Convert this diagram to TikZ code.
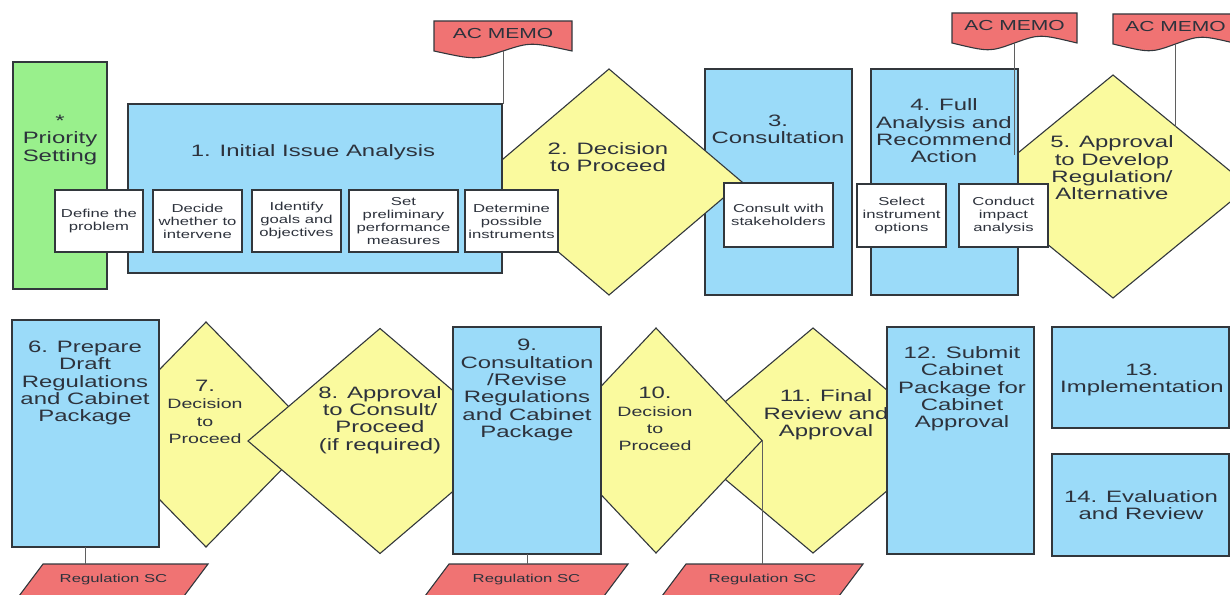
\documentclass[tikz,border=0pt]{standalone}
\usepackage{fontspec}
\setmainfont{Liberation Sans}[FakeStretch=1.45]
\usepackage{tikz}
\usetikzlibrary{shapes.geometric}

\definecolor{stepblue}{RGB}{155,219,249}
\definecolor{prioritygreen}{RGB}{153,240,140}
\definecolor{decisionyellow}{RGB}{250,250,158}
\definecolor{memored}{RGB}{240,115,115}
\definecolor{edgegray}{RGB}{50,55,60}
\definecolor{textgray}{RGB}{45,50,60}
\definecolor{linkgray}{RGB}{95,95,95}

\newcommand{\smalltxt}{\fontsize{13.5}{15}\selectfont}

% memo with wavy bottom: name, left x, top y, width
\newcommand{\acmemo}[4]{%
  \filldraw[memo] (#2,#3) -- ++(#4,0) -- ++(0,30)
    .. controls +(-0.3*#4,-9) and +(0.2*#4,-9) .. ++(-0.5*#4,0)
    .. controls +(-0.2*#4,9) and +(0.3*#4,9) .. ++(-0.5*#4,0) -- cycle;
  \node[memotext, minimum width=#4, minimum height=30] (#1) at (#2,#3) {AC MEMO};}

% slanted Regulation SC box: name, top-left x, top width
\newcommand{\regsc}[3]{%
  \filldraw[memo] (#2,564) -- ++(#3,0) -- ++(-24,32) -- ++(-#3,0) -- cycle;
  \node[sctext, minimum width=#3, minimum height=32] (#1) at (#2-12,564) {Regulation SC};}

\tikzset{
  stage/.style={rectangle, draw=edgegray, line width=1.1pt, fill=stepblue, inner sep=0pt, outer sep=0pt, anchor=north west},
  priority/.style={stage, fill=prioritygreen},
  gate/.style={diamond, draw=edgegray, line width=1.1pt, fill=decisionyellow, inner sep=0pt, outer sep=0pt},
  task/.style={rectangle, draw=edgegray, line width=1.1pt, fill=white, inner sep=0pt, outer sep=0pt, anchor=north west, align=center, text=textgray, font=\fontsize{11.5}{13}\selectfont},
  lbl/.style={align=center, inner sep=0pt, text=textgray, font=\fontsize{16.5}{17.3}\selectfont},
  memo/.style={draw=edgegray, line width=1.1pt, fill=memored},
  memotext/.style={anchor=north west, inner sep=0pt, outer sep=0pt, text=textgray, text depth=6pt, font=\fontsize{14.5}{16}\selectfont},
  sctext/.style={anchor=north west, inner sep=0pt, outer sep=0pt, text=textgray, font=\fontsize{11.5}{13}\selectfont},
  link/.style={draw=linkgray, line width=1pt},
}

\begin{document}
\begin{tikzpicture}[x=1pt, y=-1pt]
  \useasboundingbox (0,0) rectangle (1230,594);
  \clip (0,0) rectangle (1230,594);

  % top row
  \node[stage, minimum width=147, minimum height=226] (b3) at (705,69) {};
  \node[lbl] (b3t) at (778,129) {3.\\Consultation};
  \node[gate, minimum width=266, minimum height=226] (d2) at (609,182) {};
  \node[lbl] (d2t) at (608,157) {2. Decision\\to Proceed};
  \node[stage, minimum width=374, minimum height=169] (b1) at (128,104) {};
  \node[lbl] (b1t) at (313,152) {1. Initial Issue Analysis};
  \node[priority, minimum width=94, minimum height=227] (b0) at (13,62) {};
  \node[lbl] (b0t) at (60,140) {*\\Priority\\Setting};

  \node[task, minimum width=88, minimum height=62] (t1) at (55,190) {Define the\\problem};
  \node[task, minimum width=89, minimum height=62] (t2) at (153,190) {Decide\\whether to\\intervene};
  \node[task, minimum width=89, minimum height=62] (t3) at (252,190) {Identify\\goals and\\objectives};
  \node[task, minimum width=109, minimum height=62] (t4) at (349,190) {Set\\preliminary\\performance\\measures};
  \node[task, minimum width=93, minimum height=62] (t5) at (465,190) {Determine\\possible\\instruments};
  \node[task, minimum width=109, minimum height=64] (t6) at (724,183) {Consult with\\stakeholders};

  \node[gate, minimum width=272, minimum height=223] (d5) at (1113,186.5) {};
  \node[lbl] (d5t) at (1112,168) {5. Approval\\to Develop\\Regulation/\\Alternative};
  \node[stage, minimum width=147, minimum height=226] (b4) at (871,69) {};
  \node[lbl] (b4t) at (944,131) {4. Full\\Analysis and\\Recommend\\Action};
  \node[task, minimum width=89, minimum height=63] (t7) at (857,184) {Select\\instrument\\options};
  \node[task, minimum width=89, minimum height=63] (t8) at (959,184) {Conduct\\impact\\analysis};

  % bottom row
  \node[gate, minimum width=220, minimum height=225] (d7) at (206,434.5) {};
  \node[lbl] (d7t) at (205,412) {7.\\\smalltxt Decision\\\smalltxt to\\\smalltxt Proceed};
  \node[stage, minimum width=147, minimum height=227] (b6) at (12,320) {};
  \node[lbl] (b6t) at (85,383) {6. Prepare\\Draft\\Regulations\\and Cabinet\\Package};
  \node[gate, minimum width=264, minimum height=225] (d8) at (380,441) {};
  \node[lbl] (d8t) at (380,420) {8. Approval\\to Consult/\\Proceed\\(if required)};
  \node[gate, minimum width=268, minimum height=225] (d11) at (813,440.5) {};
  \node[lbl] (d11t) at (826,415) {11. Final\\Review and\\Approval};
  \node[gate, minimum width=212, minimum height=225] (d10) at (656,440.5) {};
  \node[lbl] (d10t) at (655,419) {10.\\\smalltxt Decision\\\smalltxt to\\\smalltxt Proceed};
  \node[stage, minimum width=148, minimum height=227] (b9) at (453,327) {};
  \node[lbl] (b9t) at (527,390) {9.\\Consultation\\/Revise\\Regulations\\and Cabinet\\Package};
  \node[stage, minimum width=147, minimum height=227] (b12) at (887,327) {};
  \node[lbl] (b12t) at (962,389) {12. Submit\\Cabinet\\Package for\\Cabinet\\Approval};
  \node[stage, minimum width=177, minimum height=101] (b13) at (1052,327) {};
  \node[lbl] (b13t) at (1142,380) {13.\\Implementation};
  \node[stage, minimum width=177, minimum height=102] (b14) at (1052,454) {};
  \node[lbl] (b14t) at (1141,505) {14. Evaluation\\and Review};

  % memos and sign-off boxes
  \acmemo{mA}{434}{21}{138}
  \acmemo{mB}{952}{13}{125}
  \acmemo{mC}{1113}{14}{125}
  \coordinate (k5a) at (1015,155);
  \coordinate (k5b) at (1176,127);
  \draw[link] (mA.south) -- (mA.south |- b1.north);
  \draw[link] (mB.south) -- (mB.south |- k5a);
  \draw[link] (mC.south) -- (mC.south |- k5b);

  \regsc{sc1}{43}{165}
  \regsc{sc2}{449}{179}
  \regsc{sc3}{686}{177}
  \draw[link] (b6.south) -- (b6.south |- sc1.north);
  \draw[link] (b9.south) -- (b9.south |- sc2.north);
  \draw[link] (d10.east) -- (d10.east |- sc3.north);
\end{tikzpicture}
\end{document}
